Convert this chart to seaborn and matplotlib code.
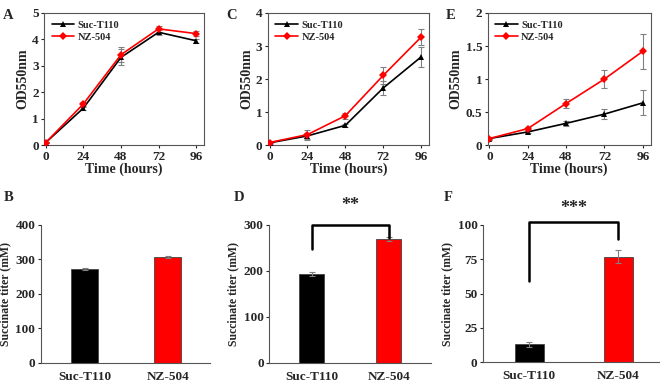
import numpy as np
import pandas as pd
import seaborn as sns
import matplotlib.pyplot as plt

# growth curves (OD550nm), mean and error
hours = [0, 24, 48, 72, 96]
strains = ['Suc-T110', 'NZ-504']

od_A = {'Suc-T110': [0.10, 1.40, 3.32, 4.27, 3.95], 'NZ-504': [0.10, 1.56, 3.42, 4.40, 4.22]}
err_A = {'Suc-T110': [0.03, 0.06, 0.30, 0.10, 0.08], 'NZ-504': [0.03, 0.07, 0.28, 0.12, 0.08]}
od_C = {'Suc-T110': [0.07, 0.28, 0.60, 1.73, 2.67], 'NZ-504': [0.08, 0.32, 0.89, 2.11, 3.27]}
err_C = {'Suc-T110': [0.02, 0.08, 0.05, 0.20, 0.30], 'NZ-504': [0.02, 0.15, 0.09, 0.25, 0.25]}
od_E = {'Suc-T110': [0.10, 0.20, 0.33, 0.47, 0.64], 'NZ-504': [0.10, 0.25, 0.63, 1.00, 1.42]}
err_E = {'Suc-T110': [0.02, 0.02, 0.04, 0.08, 0.19], 'NZ-504': [0.02, 0.02, 0.07, 0.13, 0.26]}

# succinate titers (mM)
titer_B = [273, 307]
terr_B = [3, 3]
titer_D = [193, 270]
terr_D = [4, 4]
titer_F = [13, 77]
terr_F = [2, 5]

colors = {'Suc-T110': 'black', 'NZ-504': 'red'}
markers = {'Suc-T110': '^', 'NZ-504': 'D'}

sns.set_style('ticks')
plt.rcParams['font.family'] = ['Liberation Serif', 'DejaVu Serif']
plt.rcParams['font.weight'] = 'bold'
plt.rcParams['axes.labelweight'] = 'bold'

fig = plt.figure(figsize=(6.6, 3.82), dpi=100)


def line_panel(rect, od, err, ymax, yticks, yticklabels, letter):
    ax = fig.add_axes(rect)
    df = pd.DataFrame([(h, s, v) for s in strains for h, v in zip(hours, od[s])],
                      columns=['hours', 'strain', 'od'])
    for s in strains:
        ax.errorbar(hours, od[s], yerr=err[s], fmt='none', ecolor='#808080',
                    elinewidth=0.8, capsize=2, capthick=0.8, zorder=1)
    sns.lineplot(data=df, x='hours', y='od', hue='strain', style='strain',
                 palette=colors, markers=markers, dashes=False, markersize=4.5,
                 markeredgewidth=0, linewidth=1.2, ax=ax, zorder=3)
    ax.set_xlim(-1, 101)
    ax.set_ylim(0, ymax)
    ax.set_xticks(hours)
    ax.set_yticks(yticks)
    ax.set_yticklabels(yticklabels)
    ax.set_xlabel('Time (hours)', fontsize=10, labelpad=0)
    ax.set_ylabel('OD550nm', fontsize=10, labelpad=2)
    ax.tick_params(labelsize=9.5, length=2, width=0.8, pad=2)
    for sp in ax.spines.values():
        sp.set_color('#555555')
        sp.set_linewidth(0.8)
    ax.legend(loc='upper left', frameon=False, fontsize=7.5,
              handlelength=2.2, handletextpad=0.3, labelspacing=0.3,
              borderaxespad=0.3)
    ax.text(-0.26, 0.98, letter, transform=ax.transAxes, fontsize=10.5,
            fontweight='bold', va='center')
    return ax


def bar_panel(rect, titer, terr, ymax, yticks, xlim, letter, stars=None):
    ax = fig.add_axes(rect)
    df = pd.DataFrame({'strain': strains, 'titer': titer})
    sns.barplot(data=df, x='strain', y='titer', hue='strain', palette=colors,
                saturation=1, width=0.33, edgecolor='#444444', linewidth=0.6,
                legend=False, ax=ax)
    ax.errorbar([0, 1], titer, yerr=terr, fmt='none', ecolor='#808080',
                elinewidth=0.8, capsize=2, capthick=0.8)
    ax.set_xlim(*xlim)
    ax.set_ylim(0, ymax)
    ax.set_yticks(yticks)
    ax.set_xlabel('')
    ax.set_ylabel('Succinate titer (mM)', fontsize=8.5, labelpad=3)
    ax.tick_params(axis='y', labelsize=9.5, length=2, width=0.8, pad=2)
    ax.tick_params(axis='x', labelsize=9.5, length=0, pad=6)
    sns.despine(ax=ax)
    for sp in ax.spines.values():
        sp.set_color('#555555')
        sp.set_linewidth(0.8)
    ax.text(-0.22, 1.20, letter, transform=ax.transAxes, fontsize=10.5,
            fontweight='bold', va='center')
    if stars is not None:
        top, left_end, right_end, label, label_y = stars
        ax.plot([0, 0, 1, 1], [left_end, top, top, right_end], color='black',
                lw=1.8, clip_on=False)
        ax.text(0.5, label_y, label, ha='center', va='center', fontsize=13,
                fontweight='bold', clip_on=False)
    return ax


line_panel([0.067, 0.620, 0.242, 0.346], od_A, err_A, 5, [0, 1, 2, 3, 4, 5],
           ['0', '1', '2', '3', '4', '5'], 'A')
line_panel([0.406, 0.620, 0.244, 0.346], od_C, err_C, 4, [0, 1, 2, 3, 4],
           ['0', '1', '2', '3', '4'], 'C')
line_panel([0.739, 0.620, 0.247, 0.346], od_E, err_E, 2, [0, 0.5, 1, 1.5, 2],
           ['0', '0.5', '1', '1.5', '2'], 'E')

bar_panel([0.062, 0.050, 0.256, 0.361], titer_B, terr_B, 400, [0, 100, 200, 300, 400],
          (-0.53, 1.51), 'B')
bar_panel([0.408, 0.050, 0.245, 0.361], titer_D, terr_D, 300, [0, 100, 200, 300],
          (-0.55, 1.55), 'D', stars=(300, 247, 272, '**', 342))
bar_panel([0.732, 0.052, 0.268, 0.359], titer_F, terr_F, 100, [0, 25, 50, 75, 100],
          (-0.52, 1.47), 'F', stars=(102, 59.5, 90, '***', 112))

fig.savefig('out.png', dpi=100)
